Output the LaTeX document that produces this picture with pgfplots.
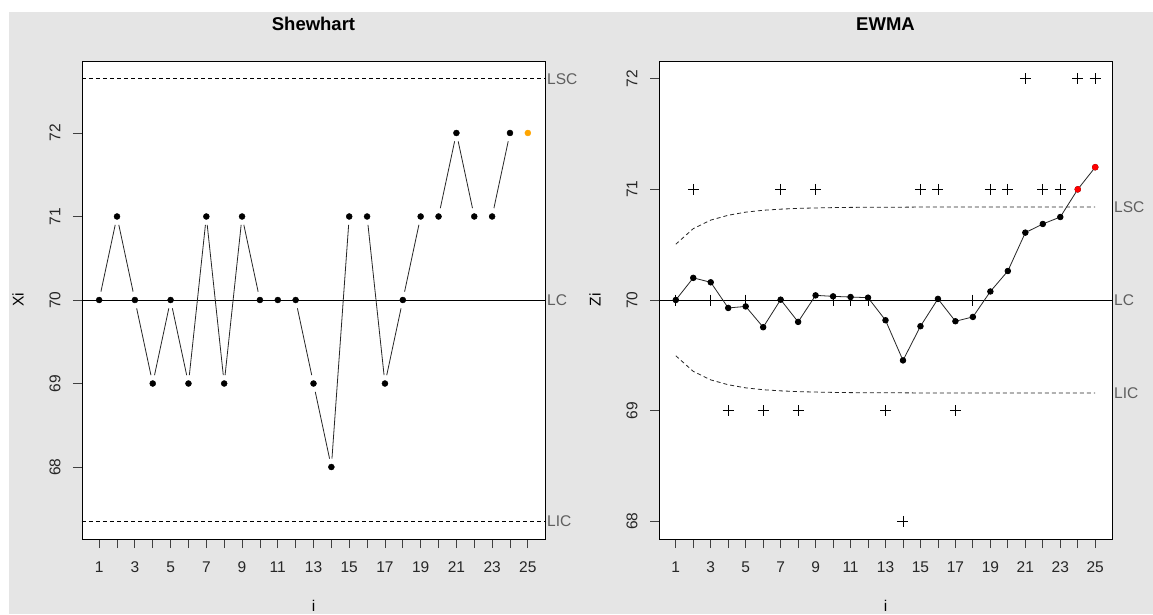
\documentclass[border=0pt]{standalone}
\usepackage{pgfplots}
\usepackage{pgfplotstable}
\pgfplotsset{compat=1.18}
\usepackage{fontspec}
\setmainfont{Liberation Sans}
\definecolor{bg}{RGB}{229,229,229}
\definecolor{lab}{RGB}{95,95,95}
\definecolor{orng}{RGB}{255,165,0}

\pgfplotstableread{
i x
1 70
2 71
3 70
4 69
5 70
6 69
7 71
8 69
9 71
10 70
11 70
12 70
13 69
14 68
15 71
16 71
17 69
18 70
19 71
20 71
21 72
22 71
23 71
24 72
}\shew

\pgfplotstableread{
x y x2 y2
1 70 2 71
2 71 3 70
3 70 4 69
4 69 5 70
5 70 6 69
6 69 7 71
7 71 8 69
8 69 9 71
9 71 10 70
12 70 13 69
13 69 14 68
14 68 15 71
16 71 17 69
17 69 18 70
18 70 19 71
20 71 21 72
21 72 22 71
23 71 24 72
}\shewseg

\pgfplotstableread{
i z x ucl lcl
1 70.000 70 70.504 69.496
2 70.200 71 70.645 69.355
3 70.160 70 70.722 69.278
4 69.928 69 70.766 69.234
5 69.942 70 70.794 69.206
6 69.754 69 70.811 69.189
7 70.003 71 70.821 69.179
8 69.802 69 70.828 69.172
9 70.042 71 70.832 69.168
10 70.033 70 70.835 69.165
11 70.027 70 70.837 69.163
12 70.021 70 70.838 69.162
13 69.817 69 70.839 69.161
14 69.454 68 70.839 69.161
15 69.763 71 70.840 69.160
16 70.010 71 70.840 69.160
17 69.808 69 70.840 69.160
18 69.847 70 70.840 69.160
19 70.077 71 70.840 69.160
20 70.262 71 70.840 69.160
21 70.609 72 70.840 69.160
22 70.687 71 70.840 69.160
23 70.750 71 70.840 69.160
24 71.000 72 70.840 69.160
25 71.200 72 70.840 69.160
}\ewma

\pgfplotsset{
  rstyle/.style={
    scale only axis,
    height=478pt,
    axis background/.style={fill=white},
    axis line style={black, line width=0.9pt},
    tick align=outside,
    major tick length=9pt,
    xtick pos=bottom, ytick pos=left,
    tick style={black!75, line width=0.8pt},
    xmin=0.04, xmax=25.96,
    xtick={1,...,25},
    xticklabels={1,,3,,5,,7,,9,,11,,13,,15,,17,,19,,21,,23,,25},
    ytick={68,69,70,71,72},
    yticklabels={68,69,70,71,72},
    font=\fontsize{15.5}{18}\selectfont,
    ticklabel style={text=black!85, inner sep=0pt},
    xticklabel style={anchor=base, yshift=-24pt},
    yticklabel style={xshift=-18pt, rotate=90, anchor=center},
    title style={font=\bfseries\fontsize{18.5}{20}\selectfont, at={(0.5,1)}, anchor=base, yshift=24pt, inner sep=0pt},
    xlabel style={at={(axis description cs:0.5,0)}, anchor=base, yshift=-72pt, inner sep=0pt},
    clip=false,
    xlabel={i},
  }
}

\begin{document}
\begin{tikzpicture}
\fill[white] (0pt,0pt) rectangle (1153pt,614pt);
\fill[bg] (9pt,0pt) rectangle (1153pt,602pt);

\begin{axis}[rstyle, at={(82pt,75pt)}, anchor=south west, width=463pt,
  ymin=67.138, ymax=72.862, title={Shewhart}, ylabel={Xi},
  ylabel style={at={(axis description cs:-0.138,0.5)}, anchor=center, inner sep=0pt}]
  \addplot[black, line width=0.8pt] coordinates {(0.04,70) (25.96,70)};
  \addplot[black, line width=0.8pt, dash pattern=on 4pt off 3pt] coordinates {(0.04,72.65) (25.96,72.65)};
  \addplot[black, line width=0.8pt, dash pattern=on 4pt off 3pt] coordinates {(0.04,67.35) (25.96,67.35)};
  \addplot[black!85, line width=0.8pt,
    quiver={u={\thisrow{x2}-\thisrow{x}}, v={\thisrow{y2}-\thisrow{y}},
      every arrow/.append style={shorten <=8.5pt, shorten >=8.5pt}}] table[x=x, y=y] {\shewseg};
  \addplot[only marks, mark=*, mark size=3pt, black] table[x=i, y=x] {\shew};
  \addplot[only marks, mark=*, mark size=3pt, orng, mark options={fill=orng, draw=orng}] coordinates {(25,72)};
  \node[anchor=west, text=lab, inner sep=0pt, xshift=2pt] at (axis cs:25.96,72.65) {LSC};
  \node[anchor=west, text=lab, inner sep=0pt, xshift=2pt] at (axis cs:25.96,70) {LC};
  \node[anchor=west, text=lab, inner sep=0pt, xshift=2pt] at (axis cs:25.96,67.35) {LIC};
\end{axis}

\begin{axis}[rstyle, at={(659pt,75pt)}, anchor=south west, width=453pt,
  ymin=67.84, ymax=72.16, title={EWMA}, ylabel={Zi},
  ylabel style={at={(axis description cs:-0.141,0.5)}, anchor=center, inner sep=0pt}]
  \addplot[black, line width=0.8pt] coordinates {(0.04,70) (25.96,70)};
  \addplot[black!85, line width=0.8pt, dash pattern=on 4pt off 3pt] table[x=i, y=ucl] {\ewma};
  \addplot[black!85, line width=0.8pt, dash pattern=on 4pt off 3pt] table[x=i, y=lcl] {\ewma};
  \addplot[only marks, mark=+, mark size=5.5pt, black, line width=0.8pt] table[x=i, y=x] {\ewma};
  \addplot[black!85, line width=0.8pt, mark=*, mark size=2.8pt, mark options={black, fill=black}] table[x=i, y=z] {\ewma};
  \addplot[only marks, mark=*, mark size=3pt, red, mark options={fill=red, draw=red}] coordinates {(24,71) (25,71.2)};
  \node[anchor=west, text=lab, inner sep=0pt, xshift=2pt] at (axis cs:25.96,70.84) {LSC};
  \node[anchor=west, text=lab, inner sep=0pt, xshift=2pt] at (axis cs:25.96,70) {LC};
  \node[anchor=west, text=lab, inner sep=0pt, xshift=2pt] at (axis cs:25.96,69.16) {LIC};
\end{axis}
\end{tikzpicture}
\end{document}
